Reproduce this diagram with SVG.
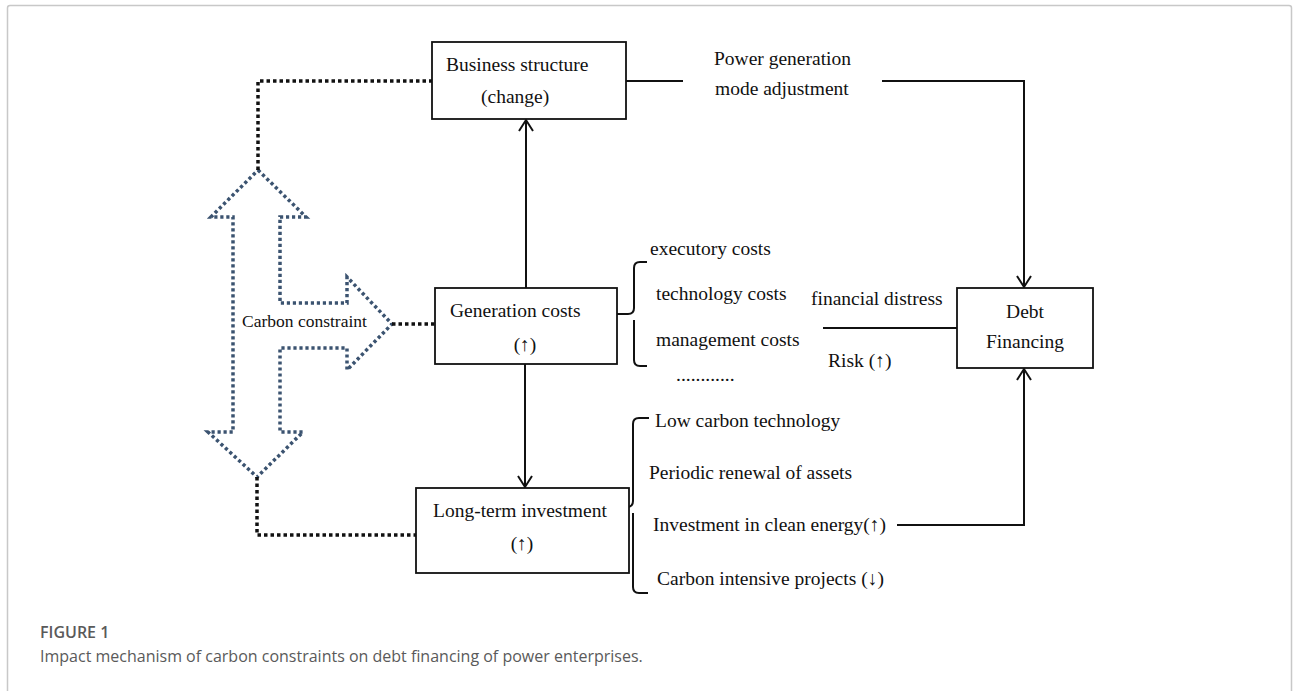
<svg xmlns="http://www.w3.org/2000/svg" width="1293" height="691" viewBox="0 0 1293 691">
<style>
.t{font-family:"Liberation Serif","Times New Roman",serif;font-size:19.5px;fill:#111}
.box{fill:#fff;stroke:#111;stroke-width:1.8}
.ln{fill:none;stroke:#111;stroke-width:2}
.dot{fill:none;stroke:#111;stroke-width:3.5;stroke-dasharray:3.5 3}
.blue{fill:none;stroke:#3b5370;stroke-width:3.5;stroke-dasharray:3.2 2.8}
.cap{font-family:"Open Sans","Noto Sans",sans-serif;fill:#5a5a5a}
</style>
<defs>
<marker id="ah" markerUnits="userSpaceOnUse" markerWidth="20" markerHeight="20" viewBox="-12 -10 14 20" refX="0" refY="0" orient="auto">
<path d="M-11,-7 L0,0 L-11,7" fill="none" stroke="#111" stroke-width="2"/>
</marker>
</defs>
<rect width="1293" height="691" fill="#fff"/>
<path d="M7.5,691 V8 Q7.5,5.5 10,5.5 H1289 Q1291.5,5.5 1291.5,8 V691" fill="none" stroke="#c8c8c8" stroke-width="1.5"/>

<g id="carbon-constraint">
<path class="blue" d="M258,170 L306,217 L280,217 L280,303 L347,303 L347,277 L392,324 L347,370 L347,348 L280,348 L280,432 L303,432 L257,477 L208,432 L233,432 L233,217 L211,217 Z"/>
<text class="t" x="242" y="327" style="font-size:17.5px">Carbon constraint</text>
</g>

<g id="connectors">
<path class="dot" d="M258,170 V81 H432"/>
<path class="dot" d="M392,324 H435"/>
<path class="dot" d="M257,477 V535 H416"/>
<path class="ln" d="M526,288 V120" marker-end="url(#ah)"/>
<path class="ln" d="M525,364 V487" marker-end="url(#ah)"/>
<path class="ln" d="M626,81 H683"/>
<path class="ln" d="M882,81 H1024 V287" marker-end="url(#ah)"/>
<path class="ln" d="M823,328 H957"/>
<path class="ln" d="M897,525 H1024 V369" marker-end="url(#ah)"/>
<path class="ln" d="M617,314 H628 Q634,314 634,308 V268 Q634,262 640,262 H647 M634,320 V360 Q634,366 640,366 H647 M634,308 Q634,314 628,314"/>
<path class="ln" d="M612,507 H627 Q633,507 633,501 V424 Q633,418 639,418 H649 M633,513 V587 Q633,593 639,593 H648"/>
</g>

<g id="business-structure">
<rect class="box" x="432" y="42" width="194" height="77"/>
<text class="t" x="446" y="71">Business structure</text>
<text class="t" x="481" y="103">(change)</text>
</g>

<g id="power-generation">
<text class="t" x="714" y="65">Power generation</text>
<text class="t" x="715" y="95">mode adjustment</text>
</g>

<g id="generation-costs">
<rect class="box" x="435" y="288" width="182" height="76"/>
<text class="t" x="450" y="317">Generation costs</text>
<text class="t" x="525" y="351" text-anchor="middle">(↑)</text>
</g>

<g id="cost-items">
<text class="t" x="650" y="255">executory costs</text>
<text class="t" x="656" y="300">technology costs</text>
<text class="t" x="656" y="346">management costs</text>
<text class="t" x="676" y="381">............</text>
</g>

<g id="financial-distress">
<text class="t" x="811" y="305">financial distress</text>
<text class="t" x="828" y="367">Risk (↑)</text>
</g>

<g id="debt-financing">
<rect class="box" x="957" y="288" width="136" height="80"/>
<text class="t" x="1025" y="318" text-anchor="middle">Debt</text>
<text class="t" x="1025" y="348" text-anchor="middle">Financing</text>
</g>

<g id="long-term-investment">
<rect class="box" x="416" y="488" width="213" height="85"/>
<text class="t" x="433" y="517">Long-term investment</text>
<text class="t" x="522" y="550" text-anchor="middle">(↑)</text>
</g>

<g id="investment-items">
<text class="t" x="655" y="427">Low carbon technology</text>
<text class="t" x="649" y="479">Periodic renewal of assets</text>
<text class="t" x="653" y="531">Investment in clean energy(↑)</text>
<text class="t" x="657" y="585">Carbon intensive projects (↓)</text>
</g>

<g id="caption">
<text class="cap" x="40" y="638" style="font-size:16px;font-weight:600">FIGURE 1</text>
<text class="cap" x="40" y="662" style="font-size:16px">Impact mechanism of carbon constraints on debt financing of power enterprises.</text>
</g>
</svg>
